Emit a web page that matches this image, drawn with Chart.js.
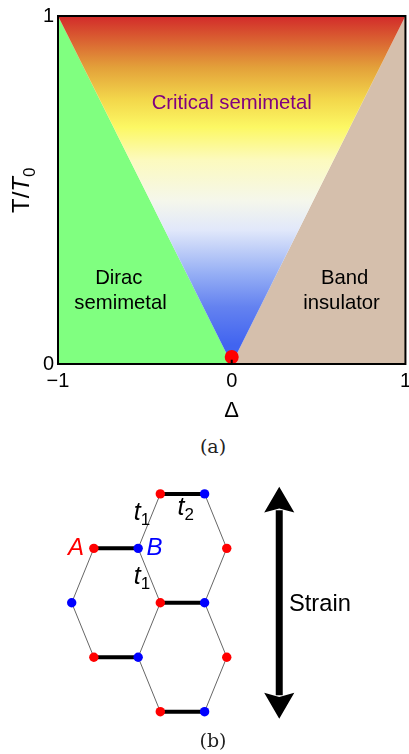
<!DOCTYPE html>
<html>
<head>
<meta charset="utf-8">
<script src="https://cdn.jsdelivr.net/npm/chart.js@4/dist/chart.umd.min.js"></script>
<style>
  html, body { margin: 0; padding: 0; background: #fff; overflow: hidden; }
  canvas { position: absolute; left: 0; }
  #phase { top: 0; }
  #lattice { top: 470px; }
  .caption { position: absolute; left: 193px; width: 40px; text-align: center; font: 19px "DejaVu Serif", serif; color: #222; }
</style>
</head>
<body>
<!-- a bit wider than the window: chart.js keeps room for half of the last tick label -->
<canvas id="phase" width="416" height="424"></canvas>
<canvas id="lattice" width="409" height="260"></canvas>
<div class="caption" style="top:435px">(a)</div>
<div class="caption" style="top:729px">(b)</div>

<script>
// Phase diagram data
const deltaTicks = [-1, 0, 1];
const tempTicks = [0, 1];
const leftBoundary = [[-1, 1], [0, 0]];
const rightBoundary = [[0, 0], [1, 1]];
const criticalPoint = [0, 0.02];
const gradientPos = [0, 0.147, 0.24, 0.32, 0.414, 0.53, 0.615, 0.74, 0.836, 0.945, 1];
const gradientColors = ['#d22a2a', '#e3a03a', '#f3d74b', '#fcf864', '#fcfabe', '#f5f7eb',
                        '#e1e8fa', '#96aff5', '#6482f0', '#4164f0', '#4164f0'];

const phaseLabels = ['Critical semimetal', 'Dirac', 'semimetal', 'Band', 'insulator'];
const phaseLabelX = [0, -0.65, -0.64, 0.65, 0.632];
const phaseLabelY = [0.75, 0.247, 0.175, 0.247, 0.175];
const phaseLabelColors = ['#800080', '#000', '#000', '#000', '#000'];

// Lattice data (columns / rows of the honeycomb)
const redSites = [[4, 4], [1, 3], [7, 3], [4, 2], [1, 1], [7, 1], [4, 0]];
const blueSites = [[6, 4], [3, 3], [0, 2], [6, 2], [3, 1], [6, 0]];
const strongBonds = [[[4, 4], [6, 4]], [[1, 3], [3, 3]], [[4, 2], [6, 2]], [[1, 1], [3, 1]], [[4, 0], [6, 0]]];
const weakBonds = [[[3, 3], [4, 4]], [[6, 4], [7, 3]], [[7, 3], [6, 2]], [[3, 3], [4, 2]], [[1, 3], [0, 2]],
                   [[0, 2], [1, 1]], [[4, 2], [3, 1]], [[6, 2], [7, 1]], [[3, 1], [4, 0]], [[7, 1], [6, 0]]];
const arrowShaft = [[9.37, 3.7], [9.37, 0.3]];
const arrowTop = [[9.37, 4.13], [10.05, 3.66], [9.37, 3.73], [8.69, 3.66], [9.37, 4.13]];
const arrowBottom = [[9.37, -0.13], [10.05, 0.35], [9.37, 0.27], [8.69, 0.35], [9.37, -0.13]];

const toPoints = list => list.map(p => ({ x: p[0], y: p[1] }));
// bonds in one dataset, broken up with empty points
const bondPoints = bonds => bonds.flatMap(b => [...toPoints(b), { x: null, y: null }]);

const base = { responsive: false, animation: false, events: [],
               plugins: { legend: { display: false }, tooltip: { enabled: false } } };

const verticalGradient = context => {
  const area = context.chart.chartArea;
  if (!area) return 'transparent';
  const g = context.chart.ctx.createLinearGradient(0, area.top, 0, area.bottom);
  gradientPos.forEach((p, i) => g.addColorStop(p, gradientColors[i]));
  return g;
};

const phasePlugin = {
  id: 'phasePlugin',
  afterDatasetsDraw(chart) {
    const { ctx, chartArea: a, scales: { x, y } } = chart;
    ctx.save();
    ctx.strokeStyle = '#000';
    ctx.lineWidth = 2;
    ctx.strokeRect(a.left, a.top, a.right - a.left, a.bottom - a.top);

    ctx.textAlign = 'center';
    ctx.textBaseline = 'middle';
    ctx.font = '20.3px "Liberation Sans"';
    phaseLabels.forEach((t, i) => {
      ctx.fillStyle = phaseLabelColors[i];
      ctx.fillText(t, x.getPixelForValue(phaseLabelX[i]), y.getPixelForValue(phaseLabelY[i]));
    });

    // y axis title, needs italic + subscript so not the normal scale title
    ctx.translate(29, 213);
    ctx.rotate(-Math.PI / 2);
    ctx.textAlign = 'left';
    ctx.textBaseline = 'alphabetic';
    ctx.fillStyle = '#000';
    ctx.font = '24px "Liberation Sans"';
    ctx.fillText('T/', 0, 0);
    let w = ctx.measureText('T/').width;
    ctx.font = 'italic 24px "Liberation Sans"';
    ctx.fillText('T', w, 0);
    w += ctx.measureText('T').width;
    ctx.font = '17px "Liberation Sans"';
    ctx.fillText('0', w, 6);
    ctx.restore();
  }
};

new Chart(document.getElementById('phase'), {
  type: 'line',
  data: {
    // first dataset is drawn last
    datasets: [
      { data: toPoints([[0, 0], [0, 0.012]]), borderColor: '#000', borderWidth: 2, pointRadius: 0 },
      { data: toPoints([criticalPoint]), showLine: false, pointRadius: 7, pointBackgroundColor: '#ff0000', pointBorderWidth: 0 },
      { data: toPoints([leftBoundary[0], leftBoundary[1], rightBoundary[1]]), fill: 'end',
        backgroundColor: verticalGradient, borderWidth: 0, pointRadius: 0 },
      { data: toPoints(leftBoundary), fill: 'origin', backgroundColor: '#80ff80', borderWidth: 0, pointRadius: 0 },
      { data: toPoints(rightBoundary), fill: 'origin', backgroundColor: '#d5bfac', borderWidth: 0, pointRadius: 0 }
    ]
  },
  options: {
    ...base,
    layout: { padding: { left: 0, right: 0, top: 16, bottom: 0 } },
    scales: {
      x: {
        type: 'linear', min: -1, max: 1,
        afterBuildTicks: s => { s.ticks = deltaTicks.map(v => ({ value: v })); },
        afterFit: s => { s.height = 60; },
        grid: { display: false, drawTicks: false },
        border: { display: false },
        ticks: { color: '#000', font: { family: 'Liberation Sans', size: 20 }, maxRotation: 0, padding: 5,
                 callback: v => String(v).replace('-', '\u2212') },
        title: { display: true, text: 'Δ', color: '#000', font: { family: 'Liberation Sans', size: 22 }, padding: { top: 6, bottom: 0 } }
      },
      y: {
        min: 0, max: 1,
        afterBuildTicks: s => { s.ticks = tempTicks.map(v => ({ value: v })); },
        afterFit: s => { s.width = 58; },
        grid: { display: false, drawTicks: false },
        border: { display: false },
        ticks: { color: '#000', font: { family: 'Liberation Sans', size: 20 }, padding: 4 }
      }
    }
  },
  plugins: [phasePlugin]
});

const latticePlugin = {
  id: 'latticePlugin',
  afterDatasetsDraw(chart) {
    const { ctx, scales: { x, y } } = chart;
    const px = c => x.getPixelForValue(c);
    const py = r => y.getPixelForValue(r);
    ctx.save();
    ctx.textBaseline = 'middle';
    ctx.textAlign = 'left';
    ctx.font = 'italic 24px "Liberation Sans"';
    ctx.fillStyle = '#ff0000';
    ctx.fillText('A', px(-0.17), py(3));
    ctx.fillStyle = '#0000ff';
    ctx.fillText('B', px(3.38), py(3));

    ctx.font = '23.7px "Liberation Sans"';
    ctx.fillStyle = '#000';
    ctx.fillText('Strain', px(9.81), py(1.97));

    // hopping labels
    ctx.textBaseline = 'alphabetic';
    [['1', 2.8, 3.53], ['1', 2.8, 2.34], ['2', 4.78, 3.62]].forEach(([sub, c, r]) => {
      ctx.font = 'italic 25px "Liberation Sans"';
      ctx.fillText('t', px(c), py(r));
      const w = ctx.measureText('t').width;
      ctx.font = '17px "Liberation Sans"';
      ctx.fillText(sub, px(c) + w, py(r) + 5);
    });
    ctx.restore();
  }
};

new Chart(document.getElementById('lattice'), {
  type: 'line',
  data: {
    // first dataset is drawn last
    datasets: [
      { data: toPoints(redSites), showLine: false, pointRadius: 4.7, pointBackgroundColor: '#ff0000', pointBorderWidth: 0, clip: false },
      { data: toPoints(blueSites), showLine: false, pointRadius: 4.7, pointBackgroundColor: '#0000ff', pointBorderWidth: 0, clip: false },
      { data: bondPoints(strongBonds), borderColor: '#000', borderWidth: 4, pointRadius: 0, spanGaps: false },
      { data: bondPoints(weakBonds), borderColor: '#666', borderWidth: 1, pointRadius: 0, spanGaps: false },
      { data: toPoints(arrowShaft), borderColor: '#000', borderWidth: 7, pointRadius: 0 },
      { data: toPoints(arrowTop), fill: 'shape', backgroundColor: '#000', borderWidth: 0, pointRadius: 0 },
      { data: toPoints(arrowBottom), fill: 'shape', backgroundColor: '#000', borderWidth: 0, pointRadius: 0 }
    ]
  },
  options: {
    ...base,
    layout: { padding: { left: 71.7, right: 27.2, top: 10.3, bottom: 3.3 } },
    scales: {
      x: { type: 'linear', min: 0, max: 14, display: false },
      y: { min: -0.25, max: 4.25, display: false }
    }
  },
  plugins: [latticePlugin]
});
</script>
</body>
</html>
